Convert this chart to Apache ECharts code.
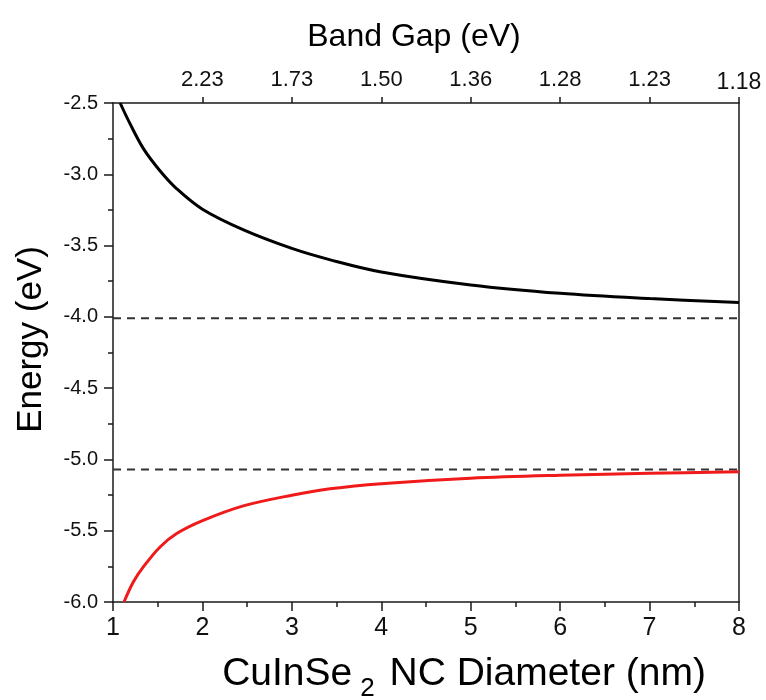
<!DOCTYPE html>
<html>
<head>
<meta charset="utf-8">
<script src="https://cdn.jsdelivr.net/npm/echarts@6/dist/echarts.min.js"></script>
<style>
html,body{margin:0;padding:0;background:#fff;}
#chart{width:766px;height:700px;}
</style>
</head>
<body>
<div id="chart"></div>
<script>
// Conduction band (black) — diameter (nm) vs energy (eV)
const cbDiameter = [1.08, 1.19, 1.34, 1.525, 1.71, 2.0, 2.46, 3.0, 3.43, 4.0, 5.0, 6.0, 7.0, 8.0];
const cbEnergy   = [-2.5, -2.645, -2.82, -2.975, -3.10, -3.245, -3.39, -3.52, -3.60, -3.685, -3.776, -3.835, -3.872, -3.90];
// Valence band (red)
const vbDiameter = [1.123, 1.227, 1.339, 1.526, 1.712, 1.995, 2.457, 3.0, 3.426, 4.0, 5.0, 6.0, 7.0, 8.0];
const vbEnergy   = [-6.0, -5.86, -5.754, -5.614, -5.52, -5.431, -5.326, -5.251, -5.206, -5.17, -5.132, -5.111, -5.097, -5.087];
// Bulk reference levels (dashed)
const bulkLevels = [-4.01, -5.07];
const bulkRange  = [1, 8];
// Top axis tick labels (band gap, eV) at diameters 2..8
const topTickDiameters = [2, 3, 4, 5, 6, 7, 8];
const topTickLabels    = ['2.23', '1.73', '1.50', '1.36', '1.28', '1.23', '1.18'];

const zip = (xs, ys) => xs.map((x, i) => [x, ys[i]]);
const FONT = 'Liberation Sans, Arial, Helvetica, sans-serif';
const AX = '#1a1a1a';

const chart = echarts.init(document.getElementById('chart'), null, {renderer: 'canvas'});

const dashedSeries = bulkLevels.map(v => ({
  type: 'line',
  data: bulkRange.map(x => [x, v]),
  symbol: 'none',
  silent: true,
  lineStyle: {color: '#333', width: 2, type: [8, 6]}
}));

chart.setOption({
  animation: false,
  backgroundColor: '#fff',
  grid: {left: 113, right: 27, top: 103, bottom: 98, containLabel: false, outerBoundsMode: 'none'},
  xAxis: [
    {
      type: 'value', position: 'bottom', min: 1, max: 8, interval: 1,
      name: '{a|CuInSe}{s|2}{a| NC Diameter (nm)}',
      nameLocation: 'middle', nameGap: 43,
      nameTextStyle: {
        padding: [0, 0, 0, 76],
        rich: {
          a: {fontFamily: FONT, fontSize: 39, color: '#000', lineHeight: 46},
          s: {fontFamily: FONT, fontSize: 26, color: '#000', padding: [30, 4, 0, 8], lineHeight: 46}
        }
      },
      axisLine: {show: true, onZero: false, lineStyle: {color: AX, width: 1.5}},
      axisTick: {show: true, inside: false, length: 9, lineStyle: {color: AX, width: 1.5}},
      minorTick: {show: true, splitNumber: 2, length: 5, lineStyle: {color: AX, width: 1.5}},
      axisLabel: {fontFamily: FONT, fontSize: 25, color: '#111', margin: 14},
      splitLine: {show: false}
    },
    {
      type: 'value', position: 'top', min: 1, max: 8, interval: 1,
      name: 'Band Gap (eV)', nameLocation: 'middle', nameGap: 50,
      nameTextStyle: {fontFamily: FONT, fontSize: 32, color: '#000', padding: [0, 24, 0, 0]},
      axisLine: {show: true, onZero: false, lineStyle: {color: AX, width: 1.5}},
      axisTick: {show: true, inside: false, length: 6, lineStyle: {color: AX, width: 1.5},
                 customValues: topTickDiameters},
      axisLabel: {fontFamily: FONT, fontSize: 22, color: '#111', margin: 12,
                  customValues: topTickDiameters,
                  formatter: v => {
                    const i = topTickDiameters.indexOf(Math.round(v));
                    if (i < 0) return '';
                    return i === topTickLabels.length - 1 ? '{big|' + topTickLabels[i] + '}' : topTickLabels[i];
                  },
                  rich: {big: {fontFamily: FONT, fontSize: 23, color: '#111', padding: [0, 0, -3, 0]}}},
      splitLine: {show: false}
    }
  ],
  yAxis: [
    {
      type: 'value', position: 'left', min: -6.0, max: -2.5, interval: 0.5,
      name: 'Energy (eV)', nameLocation: 'middle', nameGap: 64, nameRotate: 90,
      nameTextStyle: {fontFamily: FONT, fontSize: 35, color: '#000', padding: [0, 0, 0, 26]},
      axisLine: {show: true, onZero: false, lineStyle: {color: AX, width: 1.5}},
      axisTick: {show: true, inside: false, length: 9, lineStyle: {color: AX, width: 1.5}},
      minorTick: {show: true, splitNumber: 2, length: 5, lineStyle: {color: AX, width: 1.5}},
      axisLabel: {fontFamily: FONT, fontSize: 20, color: '#111', margin: 15,
                  formatter: v => v.toFixed(1)},
      splitLine: {show: false}
    },
    {
      type: 'value', position: 'right', min: -6.0, max: -2.5, interval: 0.5,
      axisLine: {show: true, onZero: false, lineStyle: {color: AX, width: 1.5}},
      axisTick: {show: false}, axisLabel: {show: false}, splitLine: {show: false}
    }
  ],
  series: [
    ...dashedSeries,
    {
      type: 'line', data: zip(cbDiameter, cbEnergy), smooth: 0.35, symbol: 'none',
      lineStyle: {color: '#000', width: 3}
    },
    {
      type: 'line', data: zip(vbDiameter, vbEnergy), smooth: 0.35, symbol: 'none',
      lineStyle: {color: '#f01a1a', width: 3}
    }
  ]
});
</script>
</body>
</html>
